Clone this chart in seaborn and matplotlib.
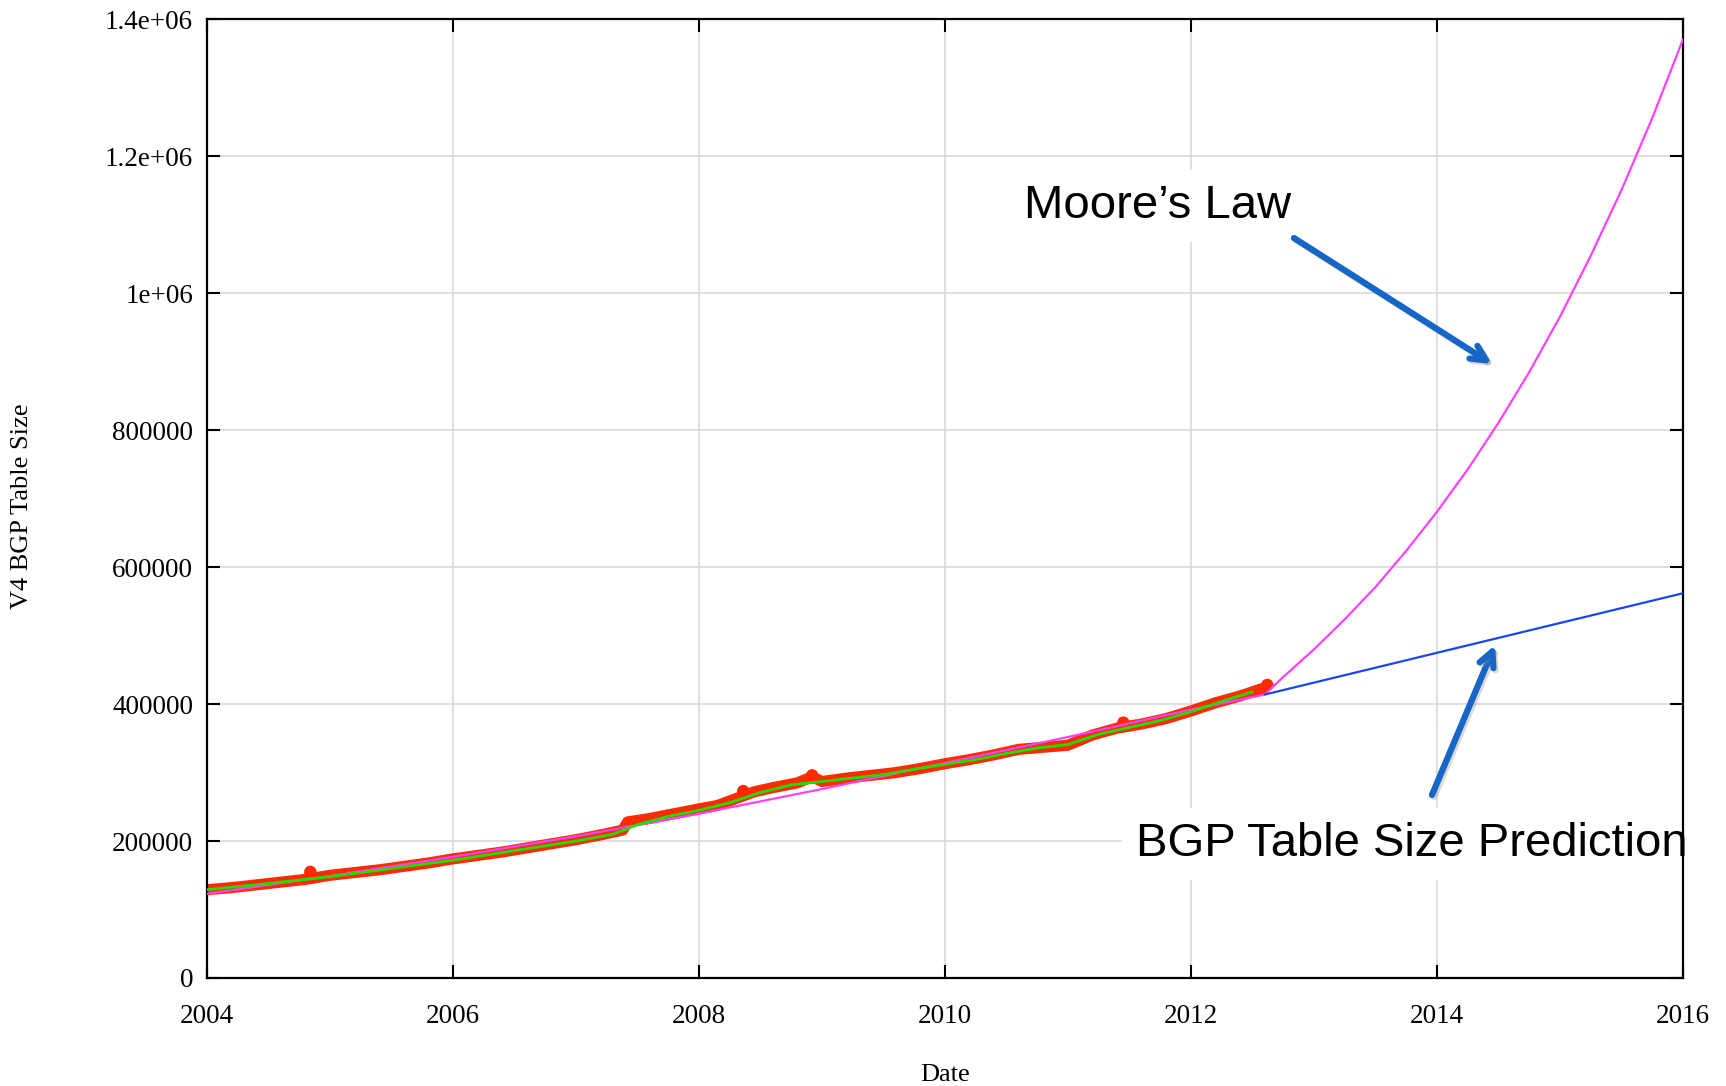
import matplotlib
matplotlib.use("Agg")
import matplotlib.pyplot as plt
import matplotlib.patheffects as pe
import pandas as pd
import seaborn as sns

# ---------------- data ----------------
bgp_years = [2004.0, 2004.2, 2004.4, 2004.6, 2004.8, 2005.0, 2005.2, 2005.4, 2005.6,
             2005.8, 2006.0, 2006.2, 2006.4, 2006.6, 2006.8, 2007.0, 2007.2, 2007.38,
             2007.42, 2007.6, 2007.8, 2008.0, 2008.15, 2008.3, 2008.45, 2008.6, 2008.8,
             2008.92, 2009.0, 2009.2, 2009.4, 2009.6, 2009.8, 2010.0, 2010.2, 2010.4,
             2010.6, 2010.8, 2011.0, 2011.2, 2011.4, 2011.6, 2011.8, 2012.0, 2012.2,
             2012.4, 2012.6]
bgp_sizes = [129000, 132000, 136000, 140000, 144000, 150000, 154000, 158000, 163000,
             168000, 174000, 179000, 184000, 190000, 196000, 202000, 209000, 216000,
             228000, 233000, 240000, 247000, 252000, 262000, 272000, 278000, 285000,
             294000, 287000, 292000, 296000, 300000, 306000, 313000, 319000, 326000,
             334000, 337000, 340000, 355000, 365000, 371000, 379000, 390000, 402000,
             412000, 424000]

spike_years = [2004.84, 2008.36, 2008.92, 2011.45, 2012.62]
spike_sizes = [155000, 273000, 296000, 373000, 428000]

smooth_years = [2004.0, 2004.5, 2005.0, 2005.5, 2006.0, 2006.5, 2007.0, 2007.3, 2007.5,
                2007.75, 2008.0, 2008.25, 2008.5, 2008.75, 2009.0, 2009.25, 2009.5,
                2009.75, 2010.0, 2010.25, 2010.5, 2010.75, 2011.0, 2011.25, 2011.5,
                2011.75, 2012.0, 2012.25, 2012.5]
smooth_sizes = [129000, 138000, 148000, 160000, 172000, 186000, 200000, 210000, 224000,
                236000, 245000, 256000, 271000, 282000, 287000, 292000, 297000,
                305000, 312000, 319000, 328000, 336000, 341000, 356000, 366000,
                376000, 389000, 404000, 418000]

moore_years = [2004.0, 2005.0, 2006.0, 2007.0, 2008.0, 2009.0, 2010.0, 2011.0, 2012.0,
               2012.6, 2012.74, 2013.0, 2013.25, 2013.5, 2013.75, 2014.0, 2014.25,
               2014.5, 2014.75, 2015.0, 2015.25, 2015.5, 2015.75, 2016.0]
moore_sizes = [123000, 149000, 177000, 207000, 240000, 276000, 314000, 352000, 392000,
               414000, 438000, 480000, 524000, 571000, 624000, 681000, 743000,
               811000, 885000, 966000, 1055000, 1151000, 1256000, 1371000]

linear_years = [2012.6, 2014.0, 2016.0]
linear_sizes = [414000, 475000, 562000]

x_ticks = [2004, 2006, 2008, 2010, 2012, 2014, 2016]
y_ticks = [0, 200000, 400000, 600000, 800000, 1000000, 1200000, 1400000]
y_tick_labels = ["0", "200000", "400000", "600000", "800000", "1e+06", "1.2e+06", "1.4e+06"]

# ---------------- styling ----------------
sns.set_theme(style="white")
plt.rcParams["font.family"] = ["Liberation Serif", "DejaVu Serif"]

fig = plt.figure(figsize=(17.26, 10.86), dpi=100)
ax = fig.add_axes([0.11993, 0.09945, 0.85516, 0.88260])

bgp = pd.DataFrame({"year": bgp_years, "size": bgp_sizes})
smooth = pd.DataFrame({"year": smooth_years, "size": smooth_sizes})
moore = pd.DataFrame({"year": moore_years, "size": moore_sizes})
linear = pd.DataFrame({"year": linear_years, "size": linear_sizes})
spikes = pd.DataFrame({"year": spike_years, "size": spike_sizes})

sns.lineplot(data=bgp, x="year", y="size", ax=ax, color="#FF2A00", lw=8,
             estimator=None, solid_capstyle="round", solid_joinstyle="round", zorder=2)
sns.scatterplot(data=spikes, x="year", y="size", ax=ax, color="#FF2A00", s=80,
                edgecolor="none", zorder=2)
sns.lineplot(data=moore, x="year", y="size", ax=ax, color="#FF40FF", lw=1.6,
             estimator=None, zorder=3)
sns.lineplot(data=smooth, x="year", y="size", ax=ax, color="#22DD00", lw=2.0,
             estimator=None, zorder=3)
sns.lineplot(data=linear, x="year", y="size", ax=ax, color="#1A46F0", lw=1.6,
             estimator=None, zorder=3)

ax.set_xlim(2004, 2016)
ax.set_ylim(0, 1400000)
ax.set_xticks(x_ticks)
ax.set_xticklabels([str(t) for t in x_ticks])
ax.set_yticks(y_ticks)
ax.set_yticklabels(y_tick_labels)

ax.grid(True, color="#d4d4d4", lw=1.1)
ax.set_axisbelow(True)
for s in ax.spines.values():
    s.set_color("black")
    s.set_linewidth(1.6)
    s.set_visible(True)

ax.tick_params(axis="both", which="major", direction="in", length=9.5, width=1.5,
               colors="black", labelsize=19.5, top=True, right=True,
               bottom=True, left=True)
ax.tick_params(axis="x", pad=19)
ax.tick_params(axis="y", pad=10)

ax.set_xlabel("Date", fontsize=19, color="black")
ax.set_ylabel("V4 BGP Table Size", fontsize=19, color="black")
ax.xaxis.set_label_coords(0.5, -0.1015)
ax.xaxis.label.set_verticalalignment("center")
ax.yaxis.set_label_coords(-0.1253, 0.492)
ax.yaxis.label.set_verticalalignment("center")

# ---------------- annotations ----------------
arrow_color = "#1566C6"
shadow = [pe.SimpleLineShadow(offset=(1.5, -1.5), shadow_color="#909090", alpha=0.35),
          pe.Normal()]
box = dict(boxstyle="square,pad=0.3", facecolor="white", edgecolor="none")

ax.text(2010.642, 1110000, "Moore\u2019s Law", family=["Liberation Sans", "DejaVu Sans"],
        fontsize=34, color="black", ha="left", va="baseline", bbox=box,
        zorder=2.2, clip_on=False)
ax.text(2011.553, 178200, "BGP Table Size Prediction",
        family=["Liberation Sans", "DejaVu Sans"], fontsize=34, color="black",
        ha="left", va="baseline", bbox=box, zorder=2.2, clip_on=False)

arrowprops = dict(arrowstyle="->,head_length=0.9,head_width=0.45", color=arrow_color,
                  lw=4.5, shrinkA=0, shrinkB=0, path_effects=shadow)
ax.annotate("", xy=(2014.447, 896800), xytext=(2012.837, 1080800),
            arrowprops=arrowprops, zorder=4)
ax.annotate("", xy=(2014.472, 486400), xytext=(2013.959, 267300),
            arrowprops=arrowprops, zorder=4)

fig.savefig("out.png", dpi=100)
